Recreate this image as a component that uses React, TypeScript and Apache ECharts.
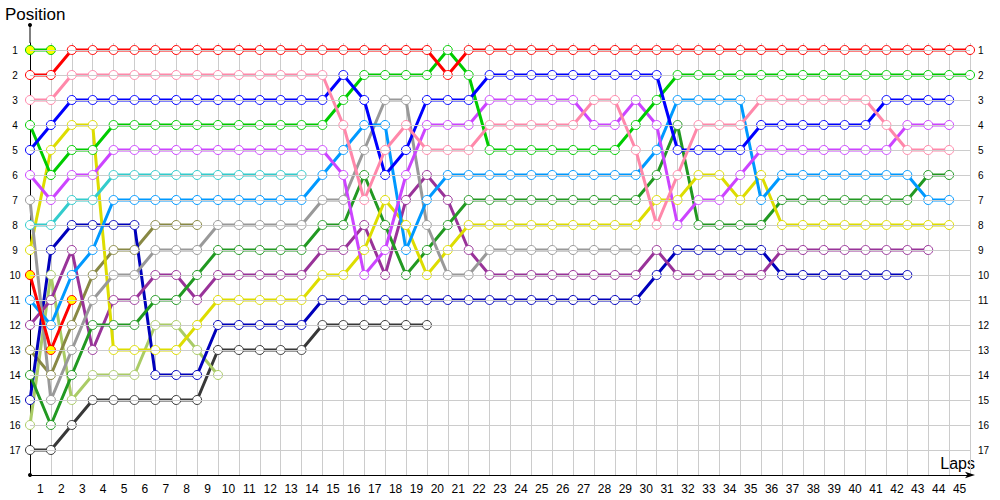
import React, { useEffect, useRef } from "react";
import * as echarts from "echarts";

const lapLabels = [
  "1", "2", "3", "4", "5", "6", "7", "8", "9", "10",
  "11", "12", "13", "14", "15", "16", "17", "18", "19", "20",
  "21", "22", "23", "24", "25", "26", "27", "28", "29", "30",
  "31", "32", "33", "34", "35", "36", "37", "38", "39", "40",
  "41", "42", "43", "44", "45",
];
const positionTicks = [1, 2, 3, 4, 5, 6, 7, 8, 9, 10, 11, 12, 13, 14, 15, 16, 17];

// positions per lap, starting at lap 0
const greenA = [1, 1];
const redA = [
  2, 2, 1, 1, 1, 1, 1, 1, 1, 1,
  1, 1, 1, 1, 1, 1, 1, 1, 1, 1,
  2, 1, 1, 1, 1, 1, 1, 1, 1, 1,
  1, 1, 1, 1, 1, 1, 1, 1, 1, 1,
  1, 1, 1, 1, 1, 1,
];
const redB = [10, 13, 11];
const pink = [
  3, 3, 2, 2, 2, 2, 2, 2, 2, 2,
  2, 2, 2, 2, 2, 4, 7, 5, 4, 5,
  5, 5, 4, 4, 4, 4, 4, 3, 3, 5,
  8, 6, 4, 4, 4, 3, 3, 3, 3, 3,
  3, 4, 5, 5, 5,
];
const blue = [
  5, 4, 3, 3, 3, 3, 3, 3, 3, 3,
  3, 3, 3, 3, 3, 2, 3, 6, 5, 3,
  3, 3, 2, 2, 2, 2, 2, 2, 2, 2,
  2, 5, 5, 5, 5, 4, 4, 4, 4, 4,
  4, 3, 3, 3, 3,
];
const greenB = [
  4, 6, 5, 5, 4, 4, 4, 4, 4, 4,
  4, 4, 4, 4, 4, 3, 2, 2, 2, 2,
  1, 2, 5, 5, 5, 5, 5, 5, 5, 4,
  3, 2, 2, 2, 2, 2, 2, 2, 2, 2,
  2, 2, 2, 2, 2, 2,
];
const magenta = [
  6, 7, 6, 6, 5, 5, 5, 5, 5, 5,
  5, 5, 5, 5, 5, 6, 10, 9, 6, 4,
  4, 4, 3, 3, 3, 3, 3, 4, 4, 3,
  4, 8, 7, 7, 6, 5, 5, 5, 5, 5,
  5, 5, 4, 4, 4,
];
const teal = [8, 8, 7, 7, 6, 6, 6, 6, 6, 6, 6, 6, 6, 6];
const lightBlue = [
  11, 12, 10, 9, 7, 7, 7, 7, 7, 7,
  7, 7, 7, 7, 6, 5, 4, 4, 9, 7,
  6, 6, 6, 6, 6, 6, 6, 6, 6, 6,
  5, 3, 3, 3, 3, 7, 6, 6, 6, 6,
  6, 6, 6, 7, 7,
];
const gray = [
  7, 15, 13, 11, 10, 10, 9, 9, 9, 8,
  8, 8, 8, 8, 7, 7, 5, 3, 3, 8,
  10, 10, 9, 9, 9, 9, 9, 9, 9, 9,
];
const yellow = [
  9, 5, 4, 4, 13, 13, 13, 13, 12, 11,
  11, 11, 11, 11, 10, 10, 9, 7, 8, 10,
  9, 8, 8, 8, 8, 8, 8, 8, 8, 8,
  7, 7, 6, 6, 7, 6, 8, 8, 8, 8,
  8, 8, 8, 8, 8,
];
const darkGreen = [
  14, 16, 14, 12, 12, 12, 11, 11, 10, 9,
  9, 9, 9, 9, 8, 8, 6, 8, 10, 9,
  8, 7, 7, 7, 7, 7, 7, 7, 7, 7,
  6, 4, 8, 8, 8, 8, 7, 7, 7, 7,
  7, 7, 7, 6, 6,
];
const purple = [
  12, 11, 9, 13, 11, 11, 10, 10, 11, 10,
  10, 10, 10, 10, 9, 9, 8, 10, 7, 6,
  7, 9, 10, 10, 10, 10, 10, 10, 10, 10,
  9, 10, 10, 10, 10, 10, 9, 9, 9, 9,
  9, 9, 9, 9,
];
const navy = [
  15, 9, 8, 8, 8, 8, 14, 14, 14, 12,
  12, 12, 12, 12, 11, 11, 11, 11, 11, 11,
  11, 11, 11, 11, 11, 11, 11, 11, 11, 11,
  10, 9, 9, 9, 9, 9, 10, 10, 10, 10,
  10, 10, 10,
];
const olive = [13, 14, 12, 10, 9, 9, 8, 8, 8];
const lightGreen = [16, 10, 15, 14, 14, 14, 12, 12, 13, 14];
const black = [
  17, 17, 16, 15, 15, 15, 15, 15, 15, 13,
  13, 13, 13, 13, 12, 12, 12, 12, 12, 12,
];

const drivers = [
  { name: "black", color: "#383838", data: black, marked: [] as number[] },
  { name: "lightGreen", color: "#aacc66", data: lightGreen, marked: [] as number[] },
  { name: "olive", color: "#888844", data: olive, marked: [] as number[] },
  { name: "navy", color: "#0000bb", data: navy, marked: [] as number[] },
  { name: "purple", color: "#993399", data: purple, marked: [] as number[] },
  { name: "darkGreen", color: "#229922", data: darkGreen, marked: [] as number[] },
  { name: "yellow", color: "#dddd00", data: yellow, marked: [] as number[] },
  { name: "gray", color: "#999999", data: gray, marked: [] as number[] },
  { name: "lightBlue", color: "#0099ff", data: lightBlue, marked: [] as number[] },
  { name: "teal", color: "#33cccc", data: teal, marked: [] as number[] },
  { name: "magenta", color: "#cc44ff", data: magenta, marked: [] as number[] },
  { name: "greenB", color: "#00cc00", data: greenB, marked: [] as number[] },
  { name: "blue", color: "#0000ff", data: blue, marked: [] as number[] },
  { name: "pink", color: "#ff88aa", data: pink, marked: [] as number[] },
  { name: "redB", color: "#ff0000", data: redB, marked: [0, 1, 2] },
  { name: "redA", color: "#ff0000", data: redA, marked: [] as number[] },
  { name: "greenA", color: "#00cc00", data: greenA, marked: [0, 1] },
];

const FONT = "Liberation Sans";

export default function App() {
  const ref = useRef<HTMLDivElement>(null);
  useEffect(() => {
    document.body.style.margin = "0";
    if (!ref.current) return;
    const chart = echarts.init(ref.current, undefined, { renderer: "svg" });

    const series: any[] = drivers.map((d) => ({
      type: "line",
      name: d.name,
      xAxisIndex: 0,
      yAxisIndex: 0,
      symbol: "circle",
      symbolSize: 9,
      showSymbol: true,
      z: 3,
      lineStyle: { color: d.color, width: 3 },
      itemStyle: { color: "#ffffff", borderColor: d.color, borderWidth: 1 },
      emphasis: { disabled: true },
      data: d.data.map((p, i) =>
        d.marked.indexOf(i) >= 0
          ? { value: [i, p], itemStyle: { color: "#ffff00", borderColor: d.color } }
          : [i, p]
      ),
    }));

    series.unshift({
      type: "line",
      name: "grid",
      xAxisIndex: 0,
      yAxisIndex: 0,
      z: 1,
      showSymbol: false,
      lineStyle: { width: 0, opacity: 0 },
      data: [[0, 1]],
      silent: true,
      markLine: {
        silent: true,
        symbol: "none",
        label: { show: false },
        animation: false,
        lineStyle: { color: "#cccccc", type: "solid", width: 1 },
        data: positionTicks.map((p) => ({ yAxis: p })),
      },
    });

    chart.setOption({
      animation: false,
      backgroundColor: "#ffffff",
      grid: { left: 30, right: 30, top: 43, bottom: 25, containLabel: false },
      xAxis: [
        {
          type: "value",
          min: 0,
          max: 45,
          interval: 1,
          position: "bottom",
          axisLabel: { show: false },
          axisTick: { show: false },
          splitLine: { show: true, lineStyle: { color: "#cccccc", width: 1 } },
          axisLine: {
            show: true,
            onZero: false,
            lineStyle: { color: "#000000", width: 1 },
            symbol: ["none", "arrow"],
            symbolSize: [5, 10],
            symbolOffset: [0, 5],
          },
        },
        {
          type: "category",
          data: lapLabels,
          boundaryGap: true,
          position: "bottom",
          axisLine: { show: false },
          axisTick: { show: false },
          splitLine: { show: false },
          axisLabel: {
            interval: 0,
            margin: 8,
            fontSize: 12,
            color: "#000000",
            fontFamily: FONT,
          },
        },
      ],
      yAxis: [
        {
          type: "value",
          inverse: true,
          min: 0.72,
          max: 18,
          position: "left",
          axisLine: { show: true, onZero: false, lineStyle: { color: "#000000", width: 1 } },
          axisTick: { show: false },
          splitLine: { show: false },
          axisLabel: {
            customValues: positionTicks,
            margin: 15,
            align: "center",
            fontSize: 10,
            color: "#000000",
            fontFamily: FONT,
          },
        },
        {
          type: "value",
          inverse: true,
          min: 0.72,
          max: 18,
          position: "right",
          axisLine: { show: false },
          axisTick: { show: false },
          splitLine: { show: false },
          axisLabel: {
            customValues: positionTicks,
            margin: 8,
            align: "left",
            fontSize: 10,
            color: "#000000",
            fontFamily: FONT,
          },
        },
      ],
      graphic: [
        {
          type: "line",
          shape: { x1: 30, y1: 25, x2: 30, y2: 43 },
          style: { stroke: "#000000", lineWidth: 1 },
        },
        { type: "circle", shape: { cx: 30, cy: 25, r: 2 }, style: { fill: "#000000" } },
        { type: "circle", shape: { cx: 30, cy: 475, r: 2 }, style: { fill: "#000000" } },
        {
          type: "text",
          left: 5,
          top: 6,
          style: { text: "Position", fontSize: 17, fontFamily: FONT, fill: "#000000" },
        },
        {
          type: "text",
          right: 25,
          top: 455,
          style: { text: "Laps", fontSize: 16, fontFamily: FONT, fill: "#000000" },
        },
      ],
      series,
    });
    return () => chart.dispose();
  }, []);
  return <div ref={ref} style={{ width: 1000, height: 500 }} />;
}
